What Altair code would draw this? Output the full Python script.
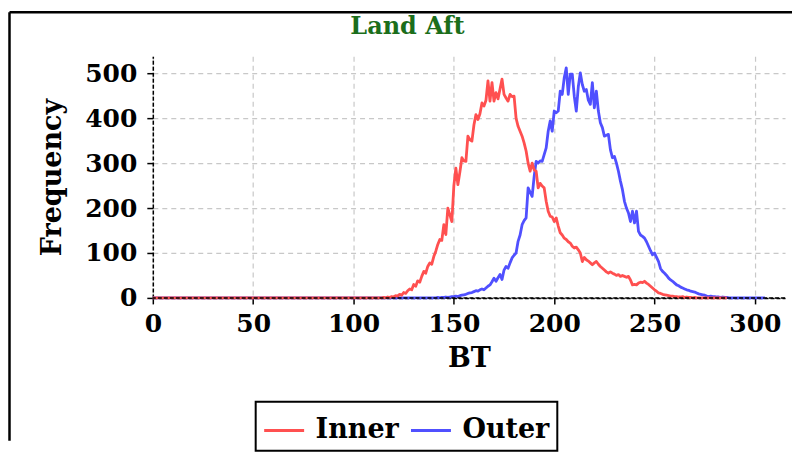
import altair as alt
import pandas as pd

# ---- data ----
title_text = "Land Aft"
series_names = ["Inner", "Outer"]
series_colors = ["#ff5050", "#5050ff"]

inner_start = 115
inner_core = [1, 0, 2, 1, 3, 2, 5, 4, 8, 6, 12, 10, 16, 20, 18, 30, 26, 38, 35, 48,
              59, 55, 70, 78, 75, 92, 104, 119, 130, 128, 163, 141, 200, 185, 170, 250, 289, 252, 280, 312,
              305, 304, 360, 352, 349, 385, 408, 397, 410, 434, 427, 440, 483, 438, 479, 438, 457, 443, 465, 487,
              453, 445, 438, 453, 448, 449, 400, 382, 371, 360, 345, 327, 300, 282, 300, 285, 282, 245, 255, 249,
              245, 215, 193, 182, 180, 170, 178, 160, 145, 140, 133, 130, 125, 122, 115, 111, 113, 107, 100, 81,
              90, 85, 82, 78, 74, 78, 81, 75, 70, 66, 62, 58, 55, 58, 55, 53, 50, 52, 48, 50,
              48, 46, 48, 40, 29, 30, 29, 33, 35, 34, 37, 33, 30, 26, 22, 18, 15, 11, 10, 8,
              7, 6, 5, 4, 4, 3, 3, 2, 2, 3, 1, 2, 1, 1, 0, 1]
inner_end = 286

outer_start = 140
outer_core = [0, 0, 1, 0, 1, 1, 2, 1, 2, 3, 3, 4, 3, 5, 6, 7, 8, 10, 11, 12,
              14, 16, 15, 18, 20, 18, 22, 26, 29, 36, 44, 37, 45, 52, 41, 62, 70, 66, 78, 89,
              95, 100, 126, 140, 163, 172, 178, 245, 235, 226, 270, 304, 300, 305, 304, 319, 334, 371, 394, 371,
              416, 412, 416, 460, 453, 490, 512, 453, 498, 498, 449, 416, 470, 501, 475, 460, 464, 440, 431, 479,
              423, 460, 416, 390, 379, 360, 362, 364, 330, 312, 315, 300, 282, 260, 241, 215, 200, 189, 170, 193,
              167, 193, 148, 140, 137, 133, 125, 115, 105, 96, 100, 90, 81, 65, 59, 55, 50, 44, 40, 37,
              33, 29, 27, 24, 22, 20, 18, 17, 15, 14, 13, 11, 9, 8, 7, 6, 4, 3, 4, 3,
              3, 2, 2, 1, 2, 1, 1]
outer_end = 305

x_ticks = [0, 50, 100, 150, 200, 250, 300]
y_ticks = [0, 100, 200, 300, 400, 500]
x_domain = [0, 315]
y_domain = [0, 538]


def full_series(start, core, end):
    bt = list(range(0, end + 1))
    vals = []
    for b in bt:
        i = b - start
        vals.append(core[i] if 0 <= i < len(core) else 0)
    return bt, vals


ob, ov = full_series(outer_start, outer_core, outer_end)
ib, iv = full_series(inner_start, inner_core, inner_end)
df = pd.concat([
    pd.DataFrame({"BT": ob, "Frequency": ov, "series": "Outer"}),
    pd.DataFrame({"BT": ib, "Frequency": iv, "series": "Inner"}),
], ignore_index=True)

FONT = "DejaVu Serif"

lines = alt.Chart(df).mark_line(strokeWidth=2.8, strokeJoin="round").encode(
    x=alt.X("BT:Q", scale=alt.Scale(domain=x_domain, nice=False, zero=False),
            axis=alt.Axis(values=x_ticks, title="BT", labelPadding=8, titlePadding=9,
                          labelFlush=False)),
    y=alt.Y("Frequency:Q", scale=alt.Scale(domain=y_domain, nice=False),
            axis=alt.Axis(values=y_ticks, title="Frequency", labelPadding=10, titlePadding=18)),
    color=alt.Color("series:N", sort=series_names,
                    scale=alt.Scale(domain=series_names, range=series_colors),
                    legend=alt.Legend(title=None, orient="none", legendX=103, legendY=346,
                                      direction="horizontal", symbolType="stroke",
                                      symbolSize=1600, symbolStrokeWidth=3,
                                      labelFont=FONT, labelFontSize=27, labelFontWeight="bold",
                                      labelColor="black", labelOffset=10, columnPadding=5,
                                      padding=7, strokeColor="black")),
    detail="series:N",
)

zero_line = alt.Chart(pd.DataFrame({"z": [0]})).mark_rule(
    color="black", strokeWidth=1.5, strokeDash=[4, 2]
).encode(y=alt.Y("z:Q"))

title_mark = alt.Chart(pd.DataFrame({"t": [title_text]})).mark_text(
    font=FONT, fontSize=24, fontWeight="bold", color="#1b6e1b", align="center", baseline="alphabetic"
).encode(text="t:N", x=alt.value(255), y=alt.value(-22))

frame_left = alt.Chart(pd.DataFrame({"f": [0]})).mark_rule(color="black", strokeWidth=2.5).encode(
    x=alt.value(-143.5), y=alt.value(-44), y2=alt.value(385))
frame_top = alt.Chart(pd.DataFrame({"f": [0]})).mark_rule(color="black", strokeWidth=2.5).encode(
    x=alt.value(-143.5), x2=alt.value(640), y=alt.value(-44))

chart = alt.layer(lines, zero_line, title_mark, frame_left, frame_top).properties(
    width=633, height=242, padding={"left": 0, "top": 2, "right": 0, "bottom": 0}
).configure_view(stroke=None).configure_axis(
    labelFont=FONT, labelFontSize=25, labelFontWeight="bold", labelColor="black",
    titleFont=FONT, titleFontSize=27, titleFontWeight="bold", titleColor="black",
    domainColor="black", domainWidth=1.5, domainDash=[4, 2],
    tickColor="black", tickSize=6, tickWidth=1.5,
    gridColor="#c8c8c8", gridDash=[5, 4], gridWidth=1.2,
).configure_legend(strokeWidth=2)

chart.save("out.html", embed_options={"renderer": "svg", "actions": False})
